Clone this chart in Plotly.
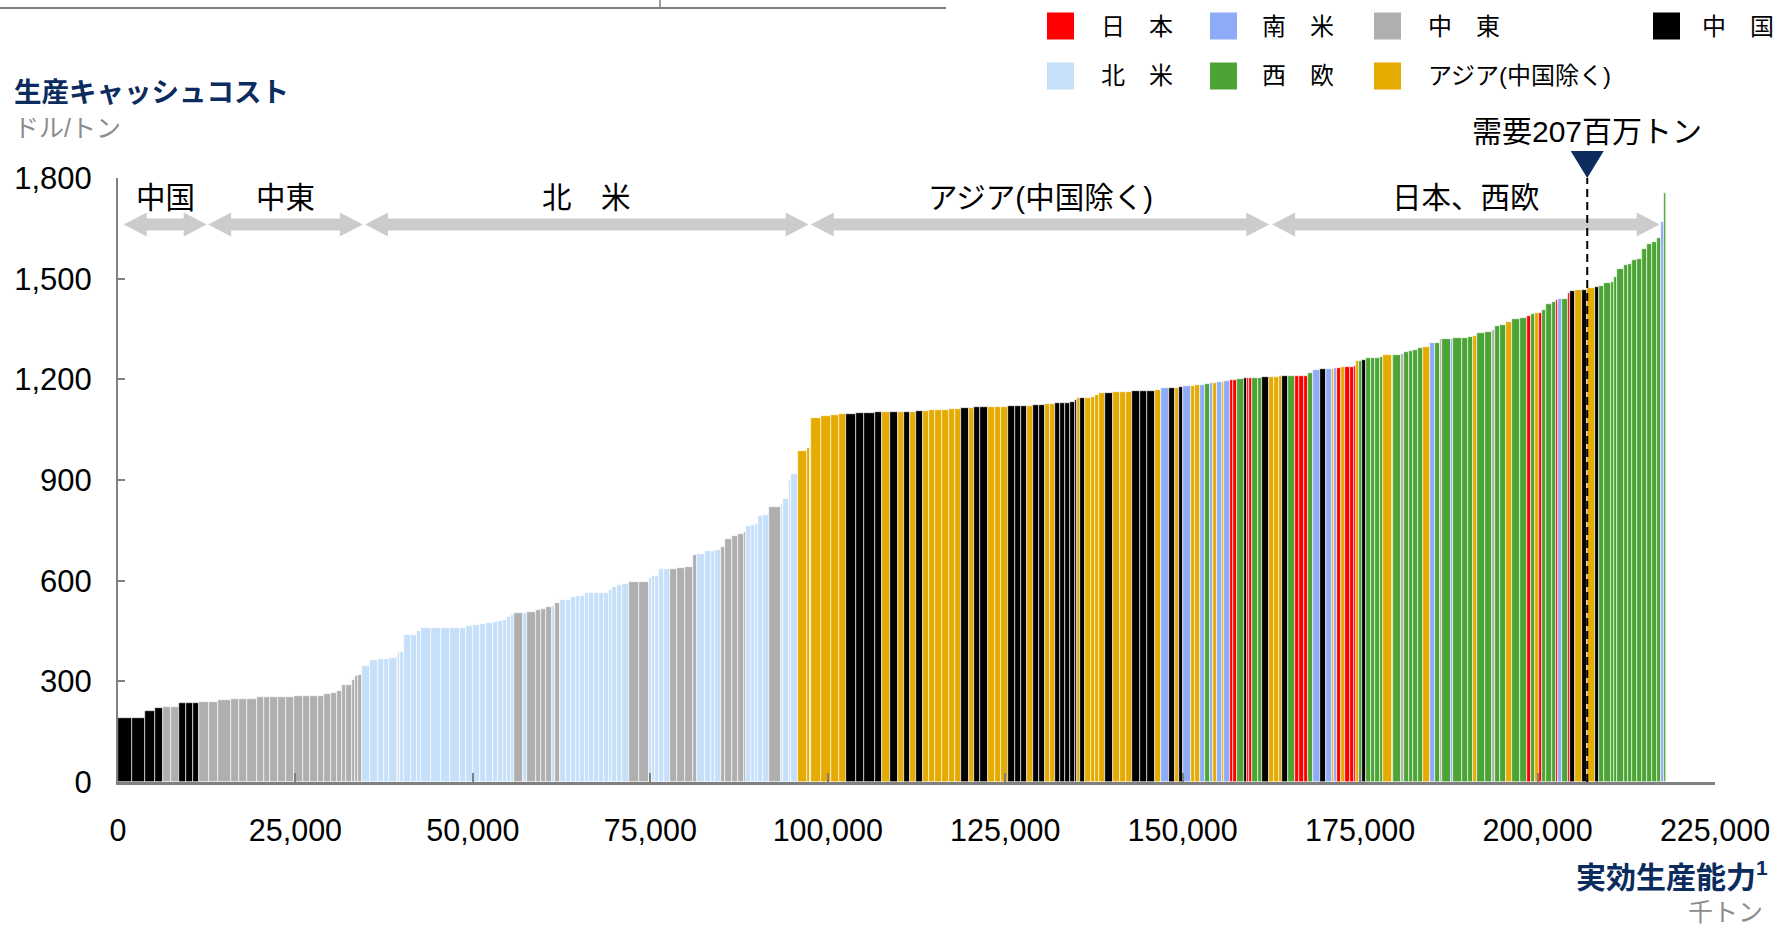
import numpy as np
import plotly.graph_objects as go

# Plant-level cash cost curve: each bar is one plant, sorted by cost.
# capacity in thousand tonnes (bar width), cash cost in USD/t (bar height)
capacity_kt = [
    1970, 1880, 1410, 1090, 1170, 1090, 1030, 940, 850, 1410,
    1270, 1790, 1130, 1090, 1450, 940, 850, 1130, 1130, 1230,
    1170, 1090, 1030, 940, 940, 850, 660, 560, 850, 470,
    380, 560, 1090, 1170, 800, 800, 1070, 140, 380, 470,
    1030, 850, 560, 1410, 1410, 1230, 1410, 890, 940, 940,
    940, 940, 710, 710, 610, 560, 380, 1270, 520, 1270,
    710, 710, 940, 320, 710, 850, 800, 610, 610, 660,
    520, 710, 710, 710, 800, 320, 750, 660, 1090, 1310,
    1410, 470, 470, 470, 800, 800, 1030, 1090, 1170, 560,
    1030, 850, 560, 850, 610, 1030, 850, 800, 320, 710,
    470, 520, 660, 850, 1740, 240, 850, 320, 990, 1270,
    320, 240, 1410, 1310, 1090, 1030, 1410, 1170, 1550, 1030,
    1090, 1130, 850, 850, 800, 940, 850, 940, 940, 1030,
    800, 850, 1090, 710, 940, 1090, 990, 850, 990, 890,
    940, 850, 800, 850, 890, 660, 660, 710, 710, 800,
    610, 380, 420, 610, 940, 470, 610, 800, 1170, 940,
    940, 850, 1030, 1030, 1170, 750, 1130, 850, 560, 610,
    1170, 560, 610, 710, 800, 380, 610, 710, 240, 800,
    470, 470, 1030, 380, 390, 390, 890, 560, 940, 710,
    710, 470, 800, 940, 610, 660, 520, 800, 940, 850,
    800, 320, 380, 560, 660, 660, 560, 280, 420, 470,
    470, 710, 610, 710, 470, 1170, 240, 1030, 470, 750,
    470, 800, 610, 1030, 710, 710, 240, 1270, 380, 1170,
    940, 710, 560, 1090, 1030, 380, 710, 850, 800, 1090,
    1030, 560, 610, 470, 470, 610, 800, 610, 180, 610,
    880, 300, 610, 1030, 710, 1170, 560, 710, 940, 380,
    470, 1030, 470, 610, 710, 710, 710, 710, 710, 560,
    380, 320,
]

cash_cost = [
    190, 190, 212, 221, 224, 224, 236, 236, 236, 239,
    239, 245, 247, 247, 247, 254, 254, 254, 254, 254,
    257, 257, 257, 257, 263, 266, 272, 288, 290, 303,
    317, 319, 346, 364, 367, 367, 370, 372, 388, 388,
    437, 437, 449, 458, 458, 458, 460, 460, 464, 468,
    471, 474, 478, 481, 484, 491, 498, 503, 503, 507,
    513, 516, 521, 526, 534, 543, 543, 552, 555, 555,
    564, 564, 564, 564, 564, 572, 580, 586, 589, 597,
    597, 608, 614, 614, 635, 635, 635, 638, 640, 677,
    680, 687, 687, 691, 700, 724, 734, 739, 746, 763,
    767, 769, 793, 795, 819, 829, 844, 900, 917, 986,
    995, 1013, 1085, 1091, 1093, 1097, 1097, 1100, 1100, 1103,
    1103, 1103, 1103, 1103, 1103, 1106, 1106, 1109, 1109, 1109,
    1112, 1112, 1115, 1115, 1118, 1118, 1118, 1118, 1118, 1120,
    1120, 1120, 1120, 1124, 1124, 1127, 1127, 1129, 1129, 1129,
    1132, 1139, 1143, 1145, 1145, 1148, 1153, 1159, 1159, 1163,
    1163, 1163, 1166, 1166, 1166, 1169, 1173, 1173, 1175, 1177,
    1179, 1181, 1182, 1184, 1187, 1188, 1190, 1191, 1193, 1196,
    1197, 1197, 1202, 1203, 1203, 1203, 1204, 1204, 1207, 1207,
    1207, 1210, 1210, 1210, 1210, 1210, 1210, 1220, 1227, 1231,
    1232, 1232, 1235, 1235, 1237, 1237, 1237, 1240, 1256, 1256,
    1259, 1263, 1263, 1263, 1268, 1274, 1274, 1274, 1277, 1280,
    1283, 1288, 1292, 1297, 1307, 1307, 1319, 1319, 1319, 1322,
    1323, 1326, 1329, 1338, 1342, 1348, 1358, 1363, 1372, 1381,
    1383, 1389, 1395, 1398, 1398, 1408, 1424, 1429, 1435, 1438,
    1439, 1457, 1462, 1465, 1465, 1471, 1474, 1478, 1487, 1490,
    1504, 1528, 1540, 1545, 1556, 1560, 1587, 1604, 1610, 1622,
    1669, 1754,
]

# K=中国, M=中東, N=北米, A=アジア(中国除く), B=南米, G=西欧, R=日本
region_code = list(
    "KKKKMMKKKM"
    "MMMMMMMMMM"
    "MMMMMMMMMM"
    "MMNNNNNMNN"
    "NNNNNNNNNN"
    "NNNNNNNMNM"
    "MMMNMNNNNN"
    "NNNNNNNNNM"
    "MNNNNNMMMM"
    "NNNNMMMMMN"
    "NNNNMNNNNA"
    "ANAAAAKKKK"
    "AKAKAKAAAA"
    "AAKAKKAAAK"
    "KKAKKAAKKK"
    "KKAKAAAAKA"
    "AAKKKABKAK"
    "BAABGBABAB"
    "RRGKRRGGKA"
    "AAKGRRRGBK"
    "BABRARRRAG"
    "KGGGGAAGMG"
    "GGGABGMGBG"
    "GGAGGMGGAG"
    "GRGARGGGRB"
    "GRKAKAKGGG"
    "GGGGGGGGGG"
    "BG"
)

region_names = {
    "R": "日　本", "B": "南　米", "M": "中　東", "K": "中　国",
    "N": "北　米", "G": "西　欧", "A": "アジア(中国除く)",
}
region_colors = {
    "R": "#FF0000", "B": "#8EABF7", "M": "#AFAFAF", "K": "#000000",
    "N": "#C7E0F9", "G": "#4BA434", "A": "#E5AB00",
}

# Region groupings shown as double arrows above the curve (thousand tonnes)
group_labels = ["中国", "中東", "北　米", "アジア(中国除く)", "日本、西欧"]
group_start_kt = [800, 12700, 34800, 97600, 162600]
group_end_kt = [12500, 34500, 97300, 162200, 217200]

demand_kt = 207000
demand_label = "需要207百万トン"

x_ticks = list(range(0, 225001, 25000))
y_ticks = list(range(0, 1801, 300))

# ---------------------------------------------------------------- layout
W, H = 1775, 927
ML, MR, MT, MB = 118, 60, 178, 145
PW, PH = W - ML - MR, H - MT - MB
XMAX = 225000

NAVY = "#0C2C5E"
GREY_TXT = "#8C8C8C"
AXIS = "#808080"
LATIN = "Liberation Sans, Arial, Noto Sans CJK JP, sans-serif"
CJK = "Liberation Sans, Noto Sans CJK JP, sans-serif"


def px_x(px):
    return (px - ML) / PW


def px_y(py):
    return (H - MB - py) / PH


widths = np.array(capacity_kt, dtype=float)
left = np.concatenate([[0.0], np.cumsum(widths)[:-1]])
centers = left + widths / 2
colors = [region_colors[c] for c in region_code]

fig = go.Figure()
fig.add_trace(go.Bar(
    x=centers, y=cash_cost, width=widths,
    marker=dict(color=colors, line=dict(color="white", width=0.6)),
    hoverinfo="skip", showlegend=False,
))

shapes = []
annotations = []

# thin rule across the top of the page
shapes.append(dict(type="line", xref="paper", yref="paper",
                   x0=px_x(0), x1=px_x(946), y0=px_y(8), y1=px_y(8),
                   line=dict(color=AXIS, width=2)))
shapes.append(dict(type="line", xref="paper", yref="paper",
                   x0=px_x(660), x1=px_x(660), y0=px_y(0), y1=px_y(8),
                   line=dict(color=AXIS, width=1.5)))

# double-headed arrows for region groups
yc, band, head, head_len = 224.5, 6, 12, 23
kt_per_px = XMAX / PW
for lab, s, e in zip(group_labels, group_start_kt, group_end_kt):
    hl = head_len * kt_per_px
    pts = [
        (s, yc), (s + hl, yc - head), (s + hl, yc - band), (e - hl, yc - band),
        (e - hl, yc - head), (e, yc), (e - hl, yc + head), (e - hl, yc + band),
        (s + hl, yc + band), (s + hl, yc + head),
    ]
    path = "M " + " L ".join(f"{x / XMAX:.5f},{px_y(y):.5f}" for x, y in pts) + " Z"
    shapes.append(dict(type="path", xref="paper", yref="paper", path=path,
                       fillcolor="#CCCCCC", line=dict(width=0)))
    annotations.append(dict(x=(s + e) / 2, xref="x", y=px_y(198), yref="paper",
                            text=lab, showarrow=False, xanchor="center", yanchor="middle",
                            font=dict(family=CJK, size=29.5, color="black")))

# demand marker
shapes.append(dict(type="line", xref="x", yref="paper", x0=demand_kt, x1=demand_kt,
                   y0=0, y1=px_y(178), line=dict(color="black", width=2, dash="8px,5px")))
tri_w = 16.5 * kt_per_px
tri = [(demand_kt - tri_w, 151), (demand_kt + tri_w, 151), (demand_kt, 178)]
shapes.append(dict(type="path", xref="paper", yref="paper",
                   path="M " + " L ".join(f"{x / XMAX:.5f},{px_y(y):.5f}" for x, y in tri) + " Z",
                   fillcolor=NAVY, line=dict(width=0)))
annotations.append(dict(x=demand_kt, xref="x", y=px_y(131), yref="paper",
                        text=demand_label, showarrow=False, xanchor="center", yanchor="middle",
                        font=dict(family=CJK, size=30, color="black")))

# legend
legend_items = [("R", 1047, 1099, 26), ("B", 1210, 1260, 26), ("M", 1374, 1426, 26),
                ("K", 1653, 1700, 26), ("N", 1047, 1099, 76), ("G", 1210, 1260, 76),
                ("A", 1374, 1426, 76)]
for code, sq_x, tx_x, ry in legend_items:
    shapes.append(dict(type="rect", xref="paper", yref="paper",
                       x0=px_x(sq_x), x1=px_x(sq_x + 27), y0=px_y(ry - 13.5), y1=px_y(ry + 13.5),
                       fillcolor=region_colors[code], line=dict(width=0)))
    annotations.append(dict(x=px_x(tx_x), xref="paper", y=px_y(ry), yref="paper",
                            text=region_names[code], showarrow=False, xanchor="left",
                            yanchor="middle", font=dict(family=CJK, size=24, color="black")))

# axis titles
annotations += [
    dict(x=px_x(12), y=px_y(92), xref="paper", yref="paper", text="<b>生産キャッシュコスト</b>",
         showarrow=False, xanchor="left", yanchor="middle",
         font=dict(family=CJK, size=27.5, color=NAVY)),
    dict(x=px_x(12), y=px_y(128), xref="paper", yref="paper", text="ドル/トン",
         showarrow=False, xanchor="left", yanchor="middle",
         font=dict(family=CJK, size=25, color=GREY_TXT)),
    dict(x=px_x(1770), y=px_y(875), xref="paper", yref="paper",
         text="<b>実効生産能力<sup>1</sup></b>",
         showarrow=False, xanchor="right", yanchor="middle",
         font=dict(family=CJK, size=30, color=NAVY)),
    dict(x=px_x(1765), y=px_y(912), xref="paper", yref="paper", text="千トン",
         showarrow=False, xanchor="right", yanchor="middle",
         font=dict(family=CJK, size=25, color=GREY_TXT)),
]

fig.update_layout(
    width=W, height=H,
    margin=dict(l=ML, r=MR, t=MT, b=MB, pad=0, autoexpand=False),
    paper_bgcolor="white", plot_bgcolor="white",
    shapes=shapes, annotations=annotations,
    showlegend=False, bargap=0,
)
fig.update_xaxes(
    range=[0, XMAX], tickvals=x_ticks, tickformat=",d", automargin=False,
    showline=True, linecolor=AXIS, linewidth=3,
    ticks="inside", ticklen=9, tickwidth=2, tickcolor=AXIS,
    showgrid=False, zeroline=False, ticklabelstandoff=19,
    ticklabeloverflow="allow",
    tickfont=dict(family=LATIN, size=30.5, color="black"),
)
fig.update_yaxes(
    range=[0, 1800], tickvals=y_ticks, tickformat=",d", automargin=False,
    showline=True, linecolor=AXIS, linewidth=2,
    ticks="inside", ticklen=7, tickwidth=2, tickcolor=AXIS,
    showgrid=False, zeroline=False, ticklabelstandoff=18,
    tickfont=dict(family=LATIN, size=31, color="black"),
)

fig.write_html("out.html")
